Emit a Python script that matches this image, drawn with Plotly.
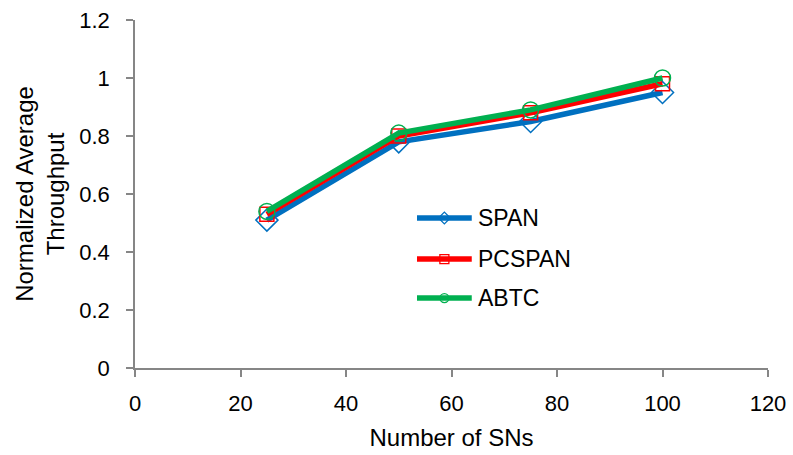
import plotly.graph_objects as go

# Number of sensor nodes and normalized throughput per scheme
sn_counts = [25, 50, 75, 100]
span = [0.51, 0.78, 0.85, 0.95]
pcspan = [0.53, 0.80, 0.88, 0.98]
abtc = [0.54, 0.81, 0.89, 1.00]

x_ticks = [0, 20, 40, 60, 80, 100, 120]
y_ticks = [0, 0.2, 0.4, 0.6, 0.8, 1, 1.2]
y_tick_text = ["0", "0.2", "0.4", "0.6", "0.8", "1", "1.2"]

series = [
    ("SPAN", span, "#0070C0", "diamond-open", 17),
    ("PCSPAN", pcspan, "#FF0000", "square-open", 14),
    ("ABTC", abtc, "#00B050", "circle-open", 16),
]

fig = go.Figure()
for name, vals, color, sym, msize in series:
    fig.add_trace(go.Scatter(
        x=sn_counts, y=vals, name=name, mode="lines+markers", showlegend=False,
        line=dict(color=color, width=5.5),
        marker=dict(symbol=sym, size=msize, color=color, line=dict(width=1.5, color=color)),
    ))

# Legend block drawn inside the plot area on a hidden overlay axis (0..1 units)
leg_x0, leg_x1, leg_text_x = 0.4455, 0.532, 0.539
leg_rows = [0.431, 0.313, 0.201]
for (name, vals, color, sym, msize), ly in zip(series, leg_rows):
    fig.add_trace(go.Scatter(
        x=[leg_x0, leg_x1], y=[ly, ly], mode="lines", showlegend=False,
        xaxis="x2", yaxis="y2", hoverinfo="skip",
        line=dict(color=color, width=5.5),
    ))
    fig.add_trace(go.Scatter(
        x=[(leg_x0 + leg_x1) / 2], y=[ly], mode="markers", showlegend=False,
        xaxis="x2", yaxis="y2", hoverinfo="skip",
        marker=dict(symbol=sym, size=9, color=color, line=dict(width=1.3, color=color)),
    ))
    fig.add_annotation(
        x=leg_text_x, y=ly, xref="x2", yref="y2", text=name, showarrow=False,
        xanchor="left", yanchor="middle",
        font=dict(family="Liberation Sans, Arial", size=23, color="#000000"),
    )

tick_font = dict(family="Liberation Sans, Arial", size=22, color="#000000")
title_font = dict(family="Liberation Sans, Arial", size=24, color="#000000")

fig.update_layout(
    width=793, height=455,
    margin=dict(l=135, r=25, t=20, b=87),
    paper_bgcolor="white", plot_bgcolor="white",
    showlegend=False,
    xaxis=dict(
        range=[0, 120], tickvals=x_ticks, showgrid=False, zeroline=False,
        showline=True, linecolor="#868686", linewidth=1.5, automargin=False,
        ticks="outside", ticklen=7, tickcolor="#868686", tickwidth=1.5,
        tickfont=tick_font, ticklabelstandoff=8,
        title=dict(text="Number of SNs", font=title_font, standoff=14),
    ),
    yaxis=dict(
        range=[0, 1.2], tickvals=y_ticks, ticktext=y_tick_text, showgrid=False, zeroline=False,
        showline=True, linecolor="#868686", linewidth=1.5, automargin=False,
        ticks="outside", ticklen=7, tickcolor="#868686", tickwidth=1.5,
        tickfont=tick_font, ticklabelstandoff=12,
        title=dict(text="Normalized Average<br>Throughput", font=title_font, standoff=8),
    ),
    xaxis2=dict(range=[0, 1], overlaying="x", visible=False, fixedrange=True),
    yaxis2=dict(range=[0, 1], overlaying="y", visible=False, fixedrange=True),
)

fig.write_html("out.html")
